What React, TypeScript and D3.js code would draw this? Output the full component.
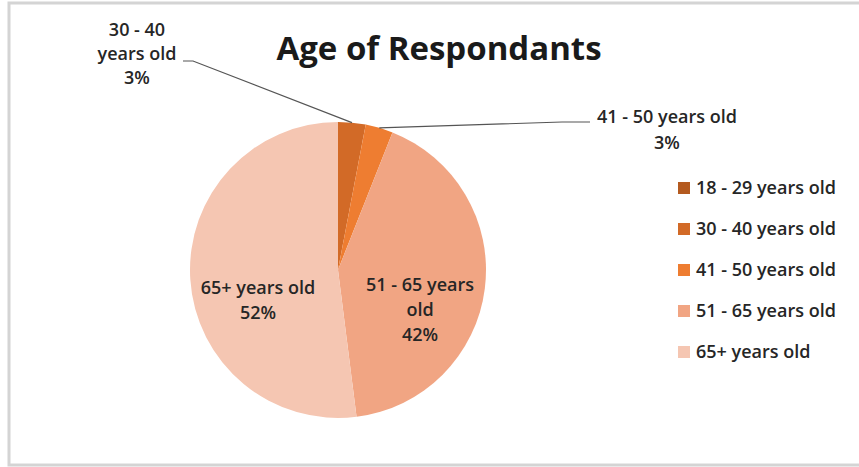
import * as d3 from "d3";
import { useEffect, useRef } from "react";

const categories = [
  "18 - 29 years old",
  "30 - 40 years old",
  "41 - 50 years old",
  "51 - 65 years old",
  "65+ years old",
];
const shares = [0, 3, 3, 42, 52];
const colors = ["#B45A1F", "#D26A27", "#EE7D31", "#F1A583", "#F5C6B2"];

const width = 859;
const height = 467;
const font = "'Open Sans', Lato, sans-serif";

export default function App() {
  const ref = useRef<SVGSVGElement>(null);

  useEffect(() => {
    const svg = d3.select(ref.current);
    svg.selectAll("*").remove();

    // chart frame
    svg
      .append("rect")
      .attr("x", 9)
      .attr("y", 3)
      .attr("width", width + 10)
      .attr("height", 462)
      .attr("fill", "#fff")
      .attr("stroke", "#d4d4d4")
      .attr("stroke-width", 3);

    svg
      .append("text")
      .attr("x", 439)
      .attr("y", 60)
      .attr("text-anchor", "middle")
      .attr("font-family", font)
      .attr("font-weight", "bold")
      .attr("font-size", 33)
      .attr("fill", "#1a1a1a")
      .text("Age of Respondants");

    const cx = 338;
    const cy = 270;
    const r = 148;

    const pie = d3
      .pie<number>()
      .sort(null)
      .value((d) => d);
    const arcs = pie(shares);
    const arc = d3.arc<d3.PieArcDatum<number>>().innerRadius(0).outerRadius(r);

    const g = svg.append("g").attr("transform", `translate(${cx},${cy})`);
    g.selectAll("path")
      .data(arcs)
      .join("path")
      .attr("d", arc)
      .attr("fill", (_, i) => colors[i])
      .attr("stroke", "none");

    const label = (lines: string[], x: number, y: number, lh: number) => {
      const t = svg
        .append("text")
        .attr("text-anchor", "middle")
        .attr("font-family", font)
        .attr("font-size", 18)
        .attr("font-weight", 600)
        .attr("fill", "#262626");
      lines.forEach((l, i) => {
        t.append("tspan")
          .attr("x", x)
          .attr("y", y + i * lh)
          .text(l);
      });
    };

    const edge = (a: d3.PieArcDatum<number>) => {
      const m = (a.startAngle + a.endAngle) / 2;
      return [cx + r * Math.sin(m), cy - r * Math.cos(m)];
    };

    // leader lines for the small slices
    const [x1, y1] = edge(arcs[1]);
    svg
      .append("polyline")
      .attr("points", `${x1},${y1} 193,61 183,61`)
      .attr("fill", "none")
      .attr("stroke", "#555")
      .attr("stroke-width", 1.2);
    label(["30 - 40", "years old", `${shares[1]}%`], 137, 36, 24);

    const [x2, y2] = edge(arcs[2]);
    svg
      .append("polyline")
      .attr("points", `${x2},${y2} 562,122 590,122`)
      .attr("fill", "none")
      .attr("stroke", "#555")
      .attr("stroke-width", 1.2);
    label(["41 - 50 years old", `${shares[2]}%`], 667, 123, 26);

    // inside labels
    label(["65+ years old", `${shares[4]}%`], 258, 294, 25);
    label(["51 - 65 years", "old", `${shares[3]}%`], 420, 291, 25);

    // legend
    const ly = d3
      .scalePoint<string>()
      .domain(categories)
      .range([188, 352]);
    const lg = svg
      .append("g")
      .selectAll("g")
      .data(categories)
      .join("g")
      .attr("transform", (d) => `translate(678,${ly(d)})`);
    lg.append("rect")
      .attr("x", 0)
      .attr("y", -6)
      .attr("width", 12)
      .attr("height", 12)
      .attr("fill", (_, i) => colors[i]);
    lg.append("text")
      .attr("x", 18)
      .attr("y", 6)
      .attr("font-family", font)
      .attr("font-size", 18)
      .attr("font-weight", 600)
      .attr("fill", "#262626")
      .text((d) => d);
  }, []);

  return (
    <div>
      <style>{`body{margin:0}`}</style>
      <svg ref={ref} width={width} height={height} style={{ display: "block" }} />
    </div>
  );
}
